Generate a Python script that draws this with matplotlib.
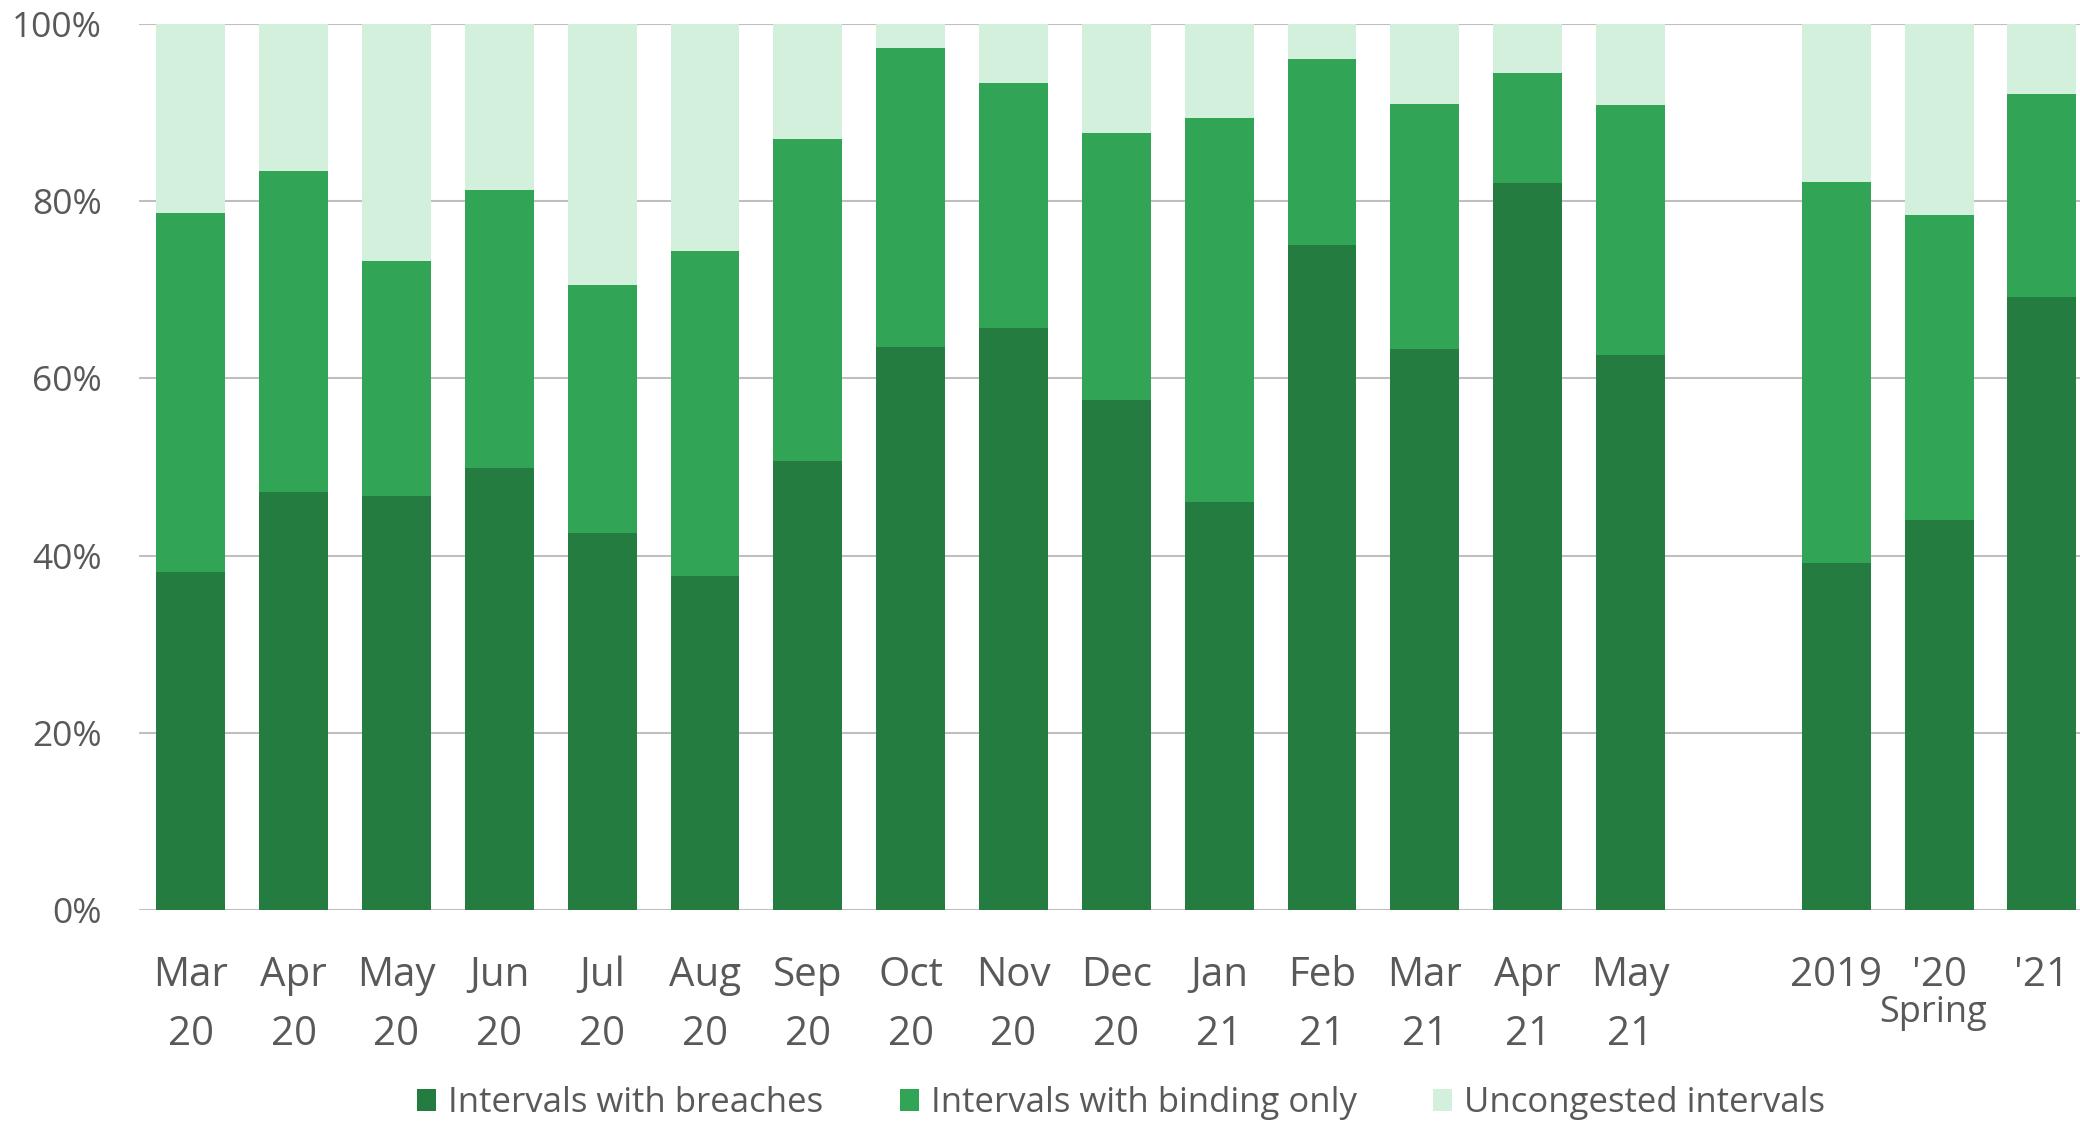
import numpy as np
import matplotlib
matplotlib.use("Agg")
import matplotlib.pyplot as plt
from matplotlib.ticker import PercentFormatter

plt.rcParams['font.family'] = ['Open Sans', 'DejaVu Sans']

# Data (percent of intervals)
categories = ['Mar\n20', 'Apr\n20', 'May\n20', 'Jun\n20', 'Jul\n20', 'Aug\n20',
              'Sep\n20', 'Oct\n20', 'Nov\n20', 'Dec\n20', 'Jan\n21', 'Feb\n21',
              'Mar\n21', 'Apr\n21', 'May\n21', '', '2019', "'20", "'21"]
breaches = [38.2, 47.2, 46.7, 49.9, 42.5, 37.7, 50.7, 63.5, 65.7, 57.6, 46.1,
            75.1, 63.3, 82.0, 62.6, None, 39.2, 44.0, 69.2]
congested = [78.7, 83.4, 73.2, 81.3, 70.5, 74.4, 87.0, 97.3, 93.3, 87.7, 89.4,
             96.0, 91.0, 94.5, 90.9, None, 82.2, 78.4, 92.1]
series_names = ['Intervals with breaches', 'Intervals with binding only',
                'Uncongested intervals']

dark = '#257C40'
mid = '#32A456'
light = '#D3F0DC'
text_col = '#595959'

x = np.array([i for i, b in enumerate(breaches) if b is not None])
br = np.array([b for b in breaches if b is not None])
cg = np.array([c for c in congested if c is not None])
binding = cg - br
uncongested = 100 - cg

fig = plt.figure(figsize=(20.8, 11.21), dpi=100)
ax = fig.add_axes([0.067, 0.1882, 0.9394, 0.7905])

w = 0.67
ax.bar(x, br, w, color=dark, label=series_names[0], zorder=3)
ax.bar(x, binding, w, bottom=br, color=mid, label=series_names[1], zorder=3)
ax.bar(x, uncongested, w, bottom=cg, color=light, label=series_names[2], zorder=3)

ax.set_xlim(-0.5, len(categories) - 0.5)
ax.set_ylim(0, 100)
ax.set_yticks(np.arange(0, 101, 20))
ax.yaxis.set_major_formatter(PercentFormatter(decimals=0))
ax.set_xticks(range(len(categories)))
ax.set_xticklabels(categories, linespacing=1.58)
ax.grid(axis='y', color='#BFBFBF', linewidth=1.5, zorder=0)
for s in ax.spines.values():
    s.set_visible(False)
ax.tick_params(axis='both', length=0, labelcolor=text_col)
ax.tick_params(axis='y', pad=27, labelsize=25.5)
ax.tick_params(axis='x', pad=33, labelsize=29)

ax.annotate('Spring', xy=(17, 0), xycoords=('data', 'axes fraction'),
            xytext=(-4, -61), textcoords='offset points', ha='center', va='top',
            fontsize=26, color=text_col)

fig.legend(loc='center', bbox_to_anchor=(0.539, 0.016), ncol=3, frameon=False,
           fontsize=25, labelcolor=text_col, handlelength=0.55, handleheight=0.6,
           handletextpad=0.35, columnspacing=2.2)

fig.savefig('out.png', dpi=100)
